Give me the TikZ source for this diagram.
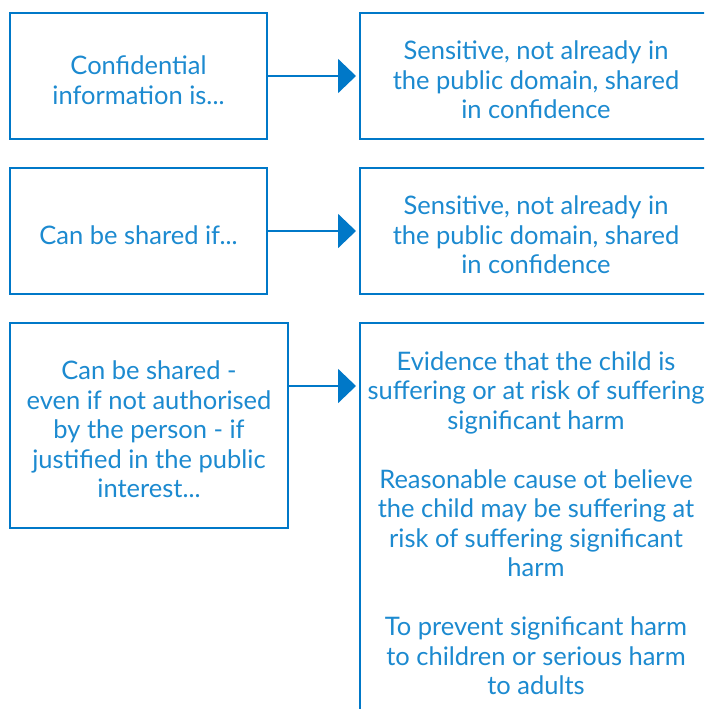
\documentclass[tikz,border=0pt]{standalone}
\usepackage{fontspec}
\setmainfont{Lato}
\usetikzlibrary{arrows.meta}
\definecolor{boxblue}{RGB}{0,120,200}
\definecolor{textblue}{RGB}{28,138,208}
\begin{document}
\begin{tikzpicture}[x=1pt,y=-1pt,
  box/.style={draw=boxblue, line width=2pt, fill=white, inner sep=0pt},
  txt/.style={align=center, text=textblue, inner sep=0pt,
    font=\fontsize{25.5}{29.5}\selectfont, yshift=-4pt},
  link/.style={draw=boxblue, line width=2pt,
    -{Triangle[length=18pt,width=34pt]}, shorten >=3pt}]
  \clip (0,0) rectangle (704,709);
  \fill[white] (0,0) rectangle (704,709);

  % row 1
  \node[box, minimum width=257, minimum height=126] (l1) at (138.5,76) {};
  \node[txt] (l1t) at (l1.center) {Confidential\\information is...};
  \node[box, minimum width=352, minimum height=126] (r1) at (536,76) {};
  \node[txt] (r1t) at (r1.center)
    {Sensitive, not already in\\the public domain, shared\\in confidence};

  % row 2
  \node[box, minimum width=257, minimum height=126] (l2) at (138.5,231) {};
  \node[txt] (l2t) at (l2.center) {Can be shared if...};
  \node[box, minimum width=352, minimum height=126] (r2) at (536,231) {};
  \node[txt] (r2t) at (r2.center)
    {Sensitive, not already in\\the public domain, shared\\in confidence};

  % row 3
  \node[box, minimum width=278, minimum height=205] (l3) at (149,425.5) {};
  \node[txt] (l3t) at (l3.center)
    {Can be shared -\\even if not authorised\\by the person - if\\justified in the public\\interest...};
  \node[box, minimum width=352, minimum height=400] (r3) at (536,523) {};
  \node[txt, yshift=4pt] (r3t) at (r3.center)
    {Evidence that the child is\\suffering or at risk of suffering\\significant harm\\[29.5pt]
     Reasonable cause ot believe\\the child may be suffering at\\risk of suffering significant\\harm\\[29.5pt]
     To prevent significant harm\\to children or serious harm\\to adults};

  % connectors
  \coordinate (a3) at (0,386);
  \draw[link] (l1.east) -- (r1.west);
  \draw[link] (l2.east) -- (r2.west);
  \draw[link] (l3.east |- a3) -- (r3.west |- a3);
\end{tikzpicture}
\end{document}
